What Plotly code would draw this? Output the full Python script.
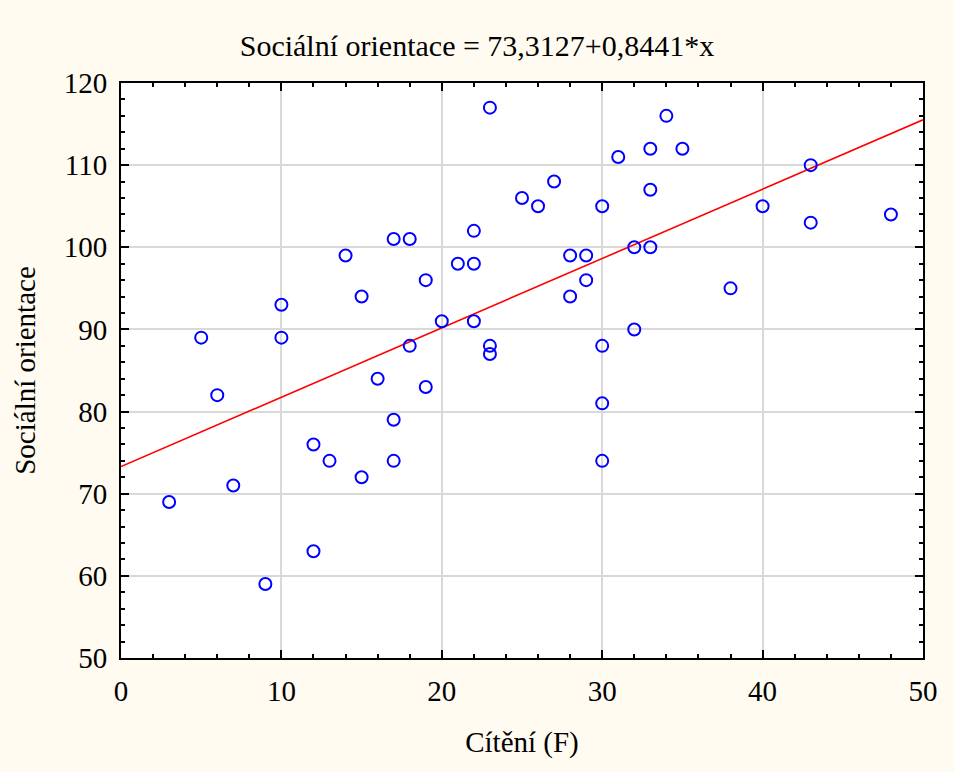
import plotly.graph_objects as go

# Data
citeni = [3, 5, 6, 7, 9, 10, 10, 12, 12, 13, 14, 15, 15, 16, 17, 17, 17, 18, 18,
          19, 19, 20, 21, 22, 22, 22, 23, 23, 23, 25, 26, 27, 28, 28, 29, 29, 30,
          30, 30, 30, 31, 32, 32, 33, 33, 33, 34, 35, 38, 40, 43, 43, 48]
socialni = [69, 89, 82, 71, 59, 93, 89, 76, 63, 74, 99, 94, 72, 84, 101, 79, 74, 101, 88,
            96, 83, 91, 98, 102, 98, 91, 117, 88, 87, 106, 105, 108, 99, 94, 99, 96, 105,
            88, 81, 74, 111, 100, 90, 112, 107, 100, 116, 112, 95, 105, 110, 103, 104]
intercept = 73.3127
slope = 0.8441
line_x = [0, 50]
line_y = [intercept + slope * v for v in line_x]

font = "Liberation Serif, Times New Roman, serif"
bg = "#FFFBF0"

fig = go.Figure()
fig.add_trace(go.Scatter(x=line_x, y=line_y, mode="lines",
                         line=dict(color="#FF0000", width=1.6), showlegend=False,
                         hoverinfo="skip"))
fig.add_trace(go.Scatter(x=citeni, y=socialni, mode="markers",
                         marker=dict(symbol="circle-open", size=12,
                                     color="#0000FF", line=dict(width=2, color="#0000FF")),
                         showlegend=False))

axis_common = dict(
    showline=True, linecolor="black", linewidth=2, mirror="ticks",
    ticks="inside", ticklen=8, tickwidth=1.5, tickcolor="black",
    showgrid=True, gridcolor="#D9D9D9", gridwidth=1.5, zeroline=False,
    tickfont=dict(family=font, size=29, color="black"),
)

fig.update_xaxes(range=[0, 50], dtick=10, tick0=0,
                 minor=dict(ticks="inside", dtick=2, ticklen=4, tickcolor="black", showgrid=False),
                 title=dict(text="Cítění (F)", font=dict(family=font, size=29, color="black"),
                            standoff=26),
                 ticklabelstandoff=6,
                 **axis_common)
fig.update_yaxes(range=[50, 120], dtick=10, tick0=50,
                 minor=dict(ticks="inside", dtick=2, ticklen=4, tickcolor="black", showgrid=False),
                 title=dict(text="Sociální orientace", font=dict(family=font, size=29, color="black"),
                            standoff=20),
                 ticklabelstandoff=6,
                 **axis_common)

fig.update_layout(
    width=954, height=772,
    margin=dict(l=121, r=31, t=83, b=114),
    paper_bgcolor=bg, plot_bgcolor="white",
    title=dict(text="Sociální orientace = 73,3127+0,8441*x", x=0.5, xref="container",
               y=1 - 45 / 772, yref="container", yanchor="middle", xanchor="center",
               font=dict(family=font, size=30, color="black")),
)

fig.write_html("out.html", config={"displayModeBar": False},
               post_script="document.body.style.margin='0';document.body.style.background='#FFFBF0';")
